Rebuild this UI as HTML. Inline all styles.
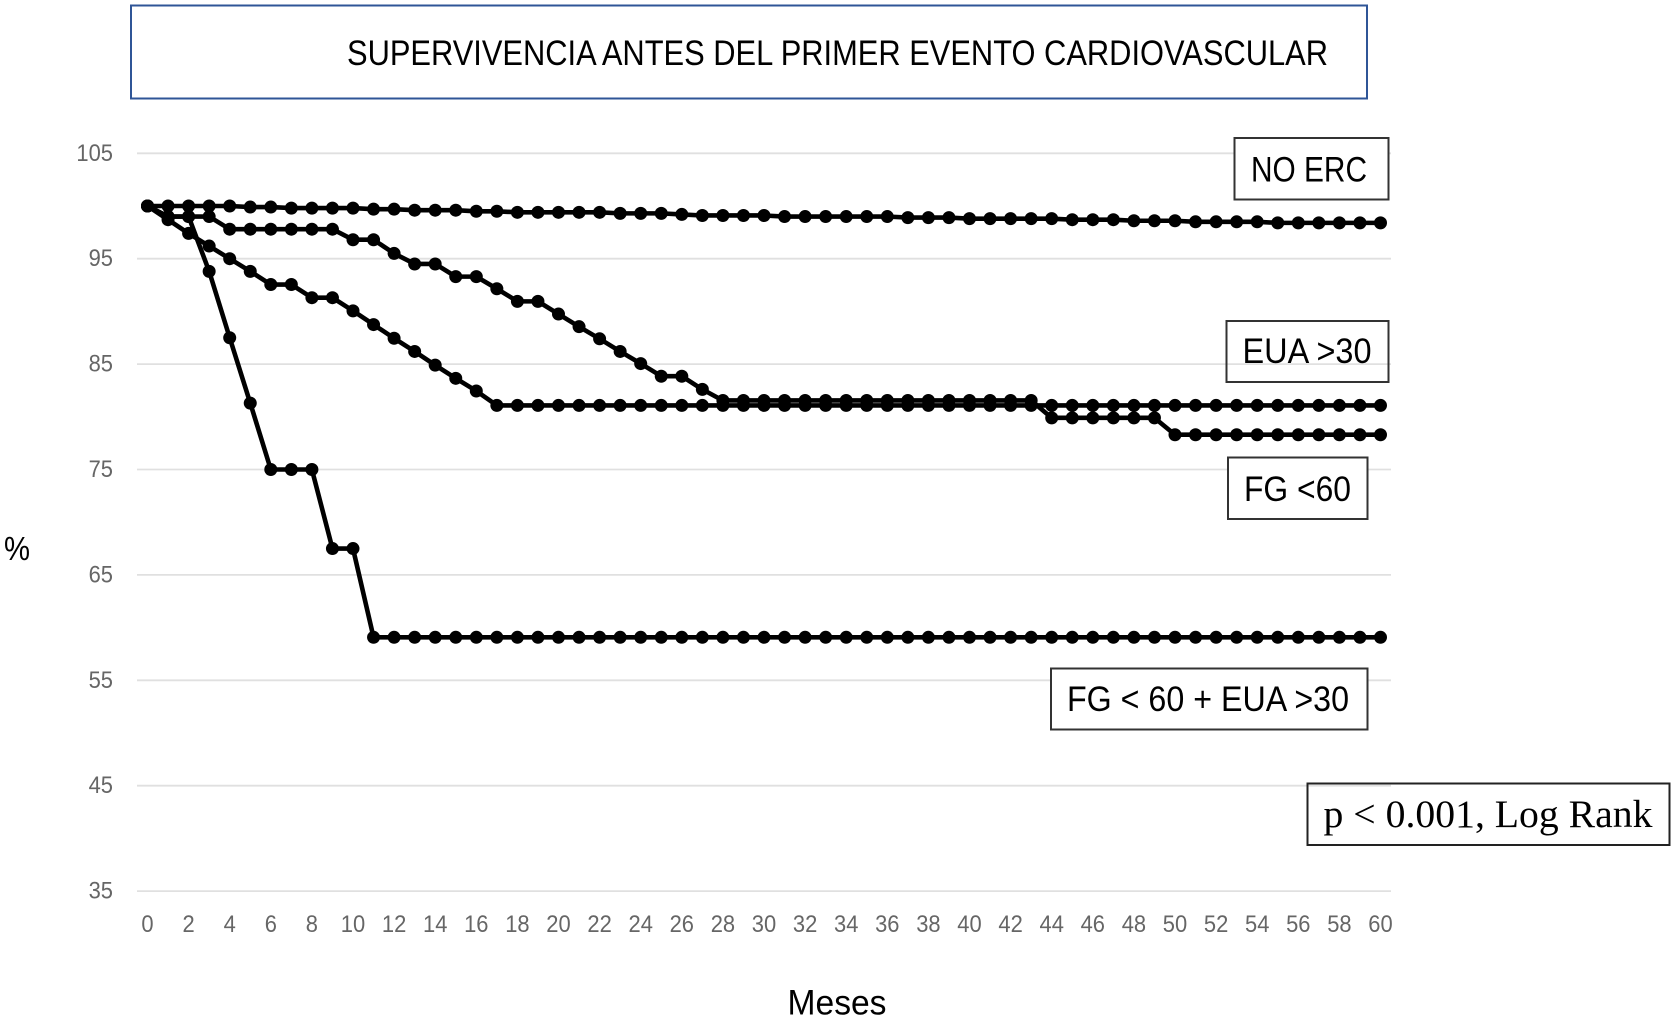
<!DOCTYPE html>
<html lang="es">
<head>
<meta charset="utf-8">
<title>Supervivencia antes del primer evento cardiovascular</title>
<style>
html,body{margin:0;padding:0;background:#fff;}
svg{display:block;font-family:"Liberation Sans",sans-serif;}
</style>
</head>
<body>
<svg id="chart" xmlns="http://www.w3.org/2000/svg" width="1675" height="1019" viewBox="0 0 1675 1019">
  <rect x="0" y="0" width="1675" height="1019" fill="#fff"/>
  <g id="grid"></g>
  <g id="yticks"></g>
  <g id="xticks"></g>
  <g id="series"></g>

  <g>
    <rect x="131" y="5.5" width="1236" height="93" fill="#fff" stroke="#2f5597" stroke-width="2"/>
    <text x="347" y="65" font-size="35" fill="#000" textLength="981" lengthAdjust="spacingAndGlyphs">SUPERVIVENCIA ANTES DEL PRIMER EVENTO CARDIOVASCULAR</text>
  </g>

  <g>
    <rect x="1234.5" y="138" width="154" height="61.5" fill="#fff" stroke="#333" stroke-width="2"/>
    <text x="1251" y="181.5" font-size="35" fill="#000" textLength="116" lengthAdjust="spacingAndGlyphs">NO ERC</text>
  </g>
  <g>
    <rect x="1226.5" y="321" width="162" height="61" fill="none" stroke="#333" stroke-width="2"/>
    <text x="1242.5" y="363" font-size="35" fill="#000" textLength="129" lengthAdjust="spacingAndGlyphs">EUA &gt;30</text>
  </g>
  <g>
    <rect x="1228" y="457.5" width="139.5" height="61.5" fill="#fff" stroke="#333" stroke-width="2"/>
    <text x="1244" y="501" font-size="35" fill="#000" textLength="107" lengthAdjust="spacingAndGlyphs">FG &lt;60</text>
  </g>
  <g>
    <rect x="1051" y="668.5" width="316.5" height="61" fill="#fff" stroke="#333" stroke-width="2"/>
    <text x="1067" y="711" font-size="35" fill="#000" textLength="282" lengthAdjust="spacingAndGlyphs">FG &lt; 60 + EUA &gt;30</text>
  </g>
  <g>
    <rect x="1307.5" y="783.5" width="362" height="61.5" fill="none" stroke="#222" stroke-width="2"/>
    <text font-family="'Liberation Serif',serif" x="1323.5" y="827" font-size="39" fill="#000" textLength="329" lengthAdjust="spacingAndGlyphs">p &lt; 0.001, Log Rank</text>
  </g>

  <text x="4" y="560" font-size="33" fill="#000" textLength="26" lengthAdjust="spacingAndGlyphs">%</text>
  <text x="787.5" y="1014.5" font-size="35" fill="#000" textLength="99" lengthAdjust="spacingAndGlyphs">Meses</text>
</svg>
<script>
const months = [0,1,2,3,4,5,6,7,8,9,10,11,12,13,14,15,16,17,18,19,20,21,22,23,24,25,26,27,28,29,30,31,32,33,34,35,36,37,38,39,40,41,42,43,44,45,46,47,48,49,50,51,52,53,54,55,56,57,58,59,60];
const yTickLabels = [105,95,85,75,65,55,45,35];
const xTickLabels = [0,2,4,6,8,10,12,14,16,18,20,22,24,26,28,30,32,34,36,38,40,42,44,46,48,50,52,54,56,58,60];

const noErc = [100,100,100,100,100,99.9,99.9,99.8,99.8,99.8,99.8,99.7,99.7,99.6,99.6,99.6,99.5,99.5,99.4,99.4,99.4,99.4,99.4,99.3,99.3,99.3,99.2,99.1,99.1,99.1,99.1,99.0,99.0,99.0,99.0,99.0,99.0,98.9,98.9,98.9,98.8,98.8,98.8,98.8,98.8,98.7,98.7,98.7,98.6,98.6,98.6,98.5,98.5,98.5,98.5,98.4,98.4,98.4,98.4,98.4,98.4];
const fg60 = [100,99,99,99,97.8,97.8,97.8,97.8,97.8,97.8,96.8,96.8,95.5,94.5,94.5,93.3,93.3,92.15,90.95,90.95,89.75,88.55,87.4,86.2,85.05,83.85,83.85,82.6,81.55,81.55,81.55,81.55,81.55,81.55,81.55,81.55,81.55,81.55,81.55,81.55,81.55,81.55,81.55,81.55,79.9,79.9,79.9,79.9,79.9,79.9,78.3,78.3,78.3,78.3,78.3,78.3,78.3,78.3,78.3,78.3,78.3];
const eua30 = [100,98.7,97.4,96.2,95,93.8,92.55,92.55,91.3,91.3,90.05,88.75,87.45,86.2,84.9,83.65,82.45,81.08,81.08,81.08,81.08,81.08,81.08,81.08,81.08,81.08,81.08,81.08,81.08,81.08,81.08,81.08,81.08,81.08,81.08,81.08,81.08,81.08,81.08,81.08,81.08,81.08,81.08,81.08,81.08,81.08,81.08,81.08,81.08,81.08,81.08,81.08,81.08,81.08,81.08,81.08,81.08,81.08,81.08,81.08,81.08];
const fg60Eua30 = [100,99,99,93.8,87.5,81.3,75,75,75,67.5,67.5,59.08,59.08,59.08,59.08,59.08,59.08,59.08,59.08,59.08,59.08,59.08,59.08,59.08,59.08,59.08,59.08,59.08,59.08,59.08,59.08,59.08,59.08,59.08,59.08,59.08,59.08,59.08,59.08,59.08,59.08,59.08,59.08,59.08,59.08,59.08,59.08,59.08,59.08,59.08,59.08,59.08,59.08,59.08,59.08,59.08,59.08,59.08,59.08,59.08,59.08];

const NS = 'http://www.w3.org/2000/svg';
function xScale(m){ return 147.5 + m * 20.55; }
function yScale(v){ return 153.3 + (105 - v) * 10.54; }

const gridGroup = document.getElementById('grid');
const yGroup = document.getElementById('yticks');
const xGroup = document.getElementById('xticks');
const seriesGroup = document.getElementById('series');

yTickLabels.forEach(function(t){
  const line = document.createElementNS(NS,'line');
  
  
  line.setAttribute('x1', 137);
  line.setAttribute('x2', 1391);
  line.setAttribute('y1', yScale(t));
  line.setAttribute('y2', yScale(t));
  line.setAttribute('stroke', '#e0e0e0');
  line.setAttribute('stroke-width', 1.8);
  gridGroup.appendChild(line);

  const label = document.createElementNS(NS,'text');
  
  
  label.setAttribute('x', 113);
  label.setAttribute('y', yScale(t) + 7.5);
  label.setAttribute('text-anchor', 'end');
  label.setAttribute('font-size', 24);
  label.setAttribute('fill', '#666');
  label.setAttribute('textLength', String(t).length * 12.2);
  label.setAttribute('lengthAdjust', 'spacingAndGlyphs');
  label.textContent = t;
  yGroup.appendChild(label);
});

xTickLabels.forEach(function(t){
  const label = document.createElementNS(NS,'text');
  
  
  label.setAttribute('x', xScale(t));
  label.setAttribute('y', 932);
  label.setAttribute('text-anchor', 'middle');
  label.setAttribute('font-size', 24);
  label.setAttribute('fill', '#666');
  label.setAttribute('textLength', String(t).length * 12.2);
  label.setAttribute('lengthAdjust', 'spacingAndGlyphs');
  label.textContent = t;
  xGroup.appendChild(label);
});

function drawSeries(values, name){
  const g = document.createElementNS(NS,'g');
  
  
  const line = document.createElementNS(NS,'polyline');
  
  
  line.setAttribute('points', values.map(function(v,i){ return xScale(months[i]) + ',' + yScale(v); }).join(' '));
  line.setAttribute('fill', 'none');
  line.setAttribute('stroke', '#000');
  line.setAttribute('stroke-width', 4.6);
  line.setAttribute('stroke-linejoin', 'round');
  g.appendChild(line);
  values.forEach(function(v,i){
    const dot = document.createElementNS(NS,'circle');
    
    
    dot.setAttribute('cx', xScale(months[i]));
    dot.setAttribute('cy', yScale(v));
    dot.setAttribute('r', 6.5);
    dot.setAttribute('fill', '#000');
    g.appendChild(dot);
  });
  seriesGroup.appendChild(g);
}

drawSeries(noErc, 'series-no-erc');
drawSeries(fg60, 'series-fg-60');
drawSeries(eua30, 'series-eua-30');
drawSeries(fg60Eua30, 'series-fg-60-eua-30');
</script>
</body>
</html>
